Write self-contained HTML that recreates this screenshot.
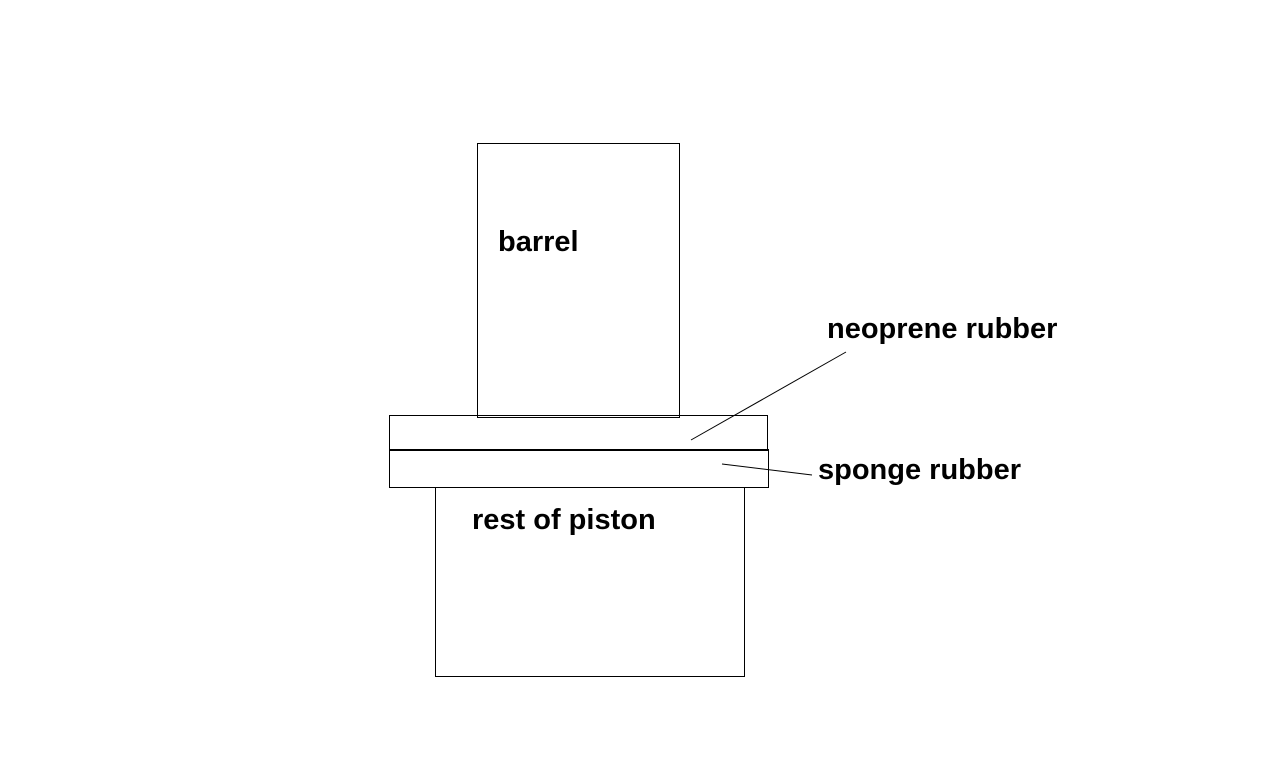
<!DOCTYPE html>
<html><head><meta charset="utf-8"><style>
body{margin:0;background:#fff;width:1280px;height:768px;overflow:hidden;position:relative}
.r{position:absolute;border:1px solid #000;box-sizing:border-box}
.t{position:absolute;font-family:"Liberation Sans",sans-serif;font-weight:bold;font-size:29px;line-height:1;white-space:nowrap;color:#000}
</style></head><body>
<div class="r" style="left:477px;top:143px;width:203px;height:275px"></div>
<div class="r" style="left:435px;top:486px;width:310px;height:191px"></div>
<div class="r" style="left:389px;top:415px;width:379px;height:36px"></div>
<div class="r" style="left:389px;top:449px;width:380px;height:39px;border-top-width:2px;background:#fff"></div>
<svg style="position:absolute;left:0;top:0" width="1280" height="768">
<line x1="846" y1="352" x2="691" y2="440" stroke="#000" stroke-width="1"/>
<line x1="722" y1="464" x2="812" y2="475" stroke="#000" stroke-width="1"/>
</svg>
<div class="t" style="left:498px;top:228px">barrel</div>
<div class="t" style="left:827px;top:315px">neoprene rubber</div>
<div class="t" style="left:818px;top:456px">sponge rubber</div>
<div class="t" style="left:472px;top:506px">rest of piston</div>
</body></html>
